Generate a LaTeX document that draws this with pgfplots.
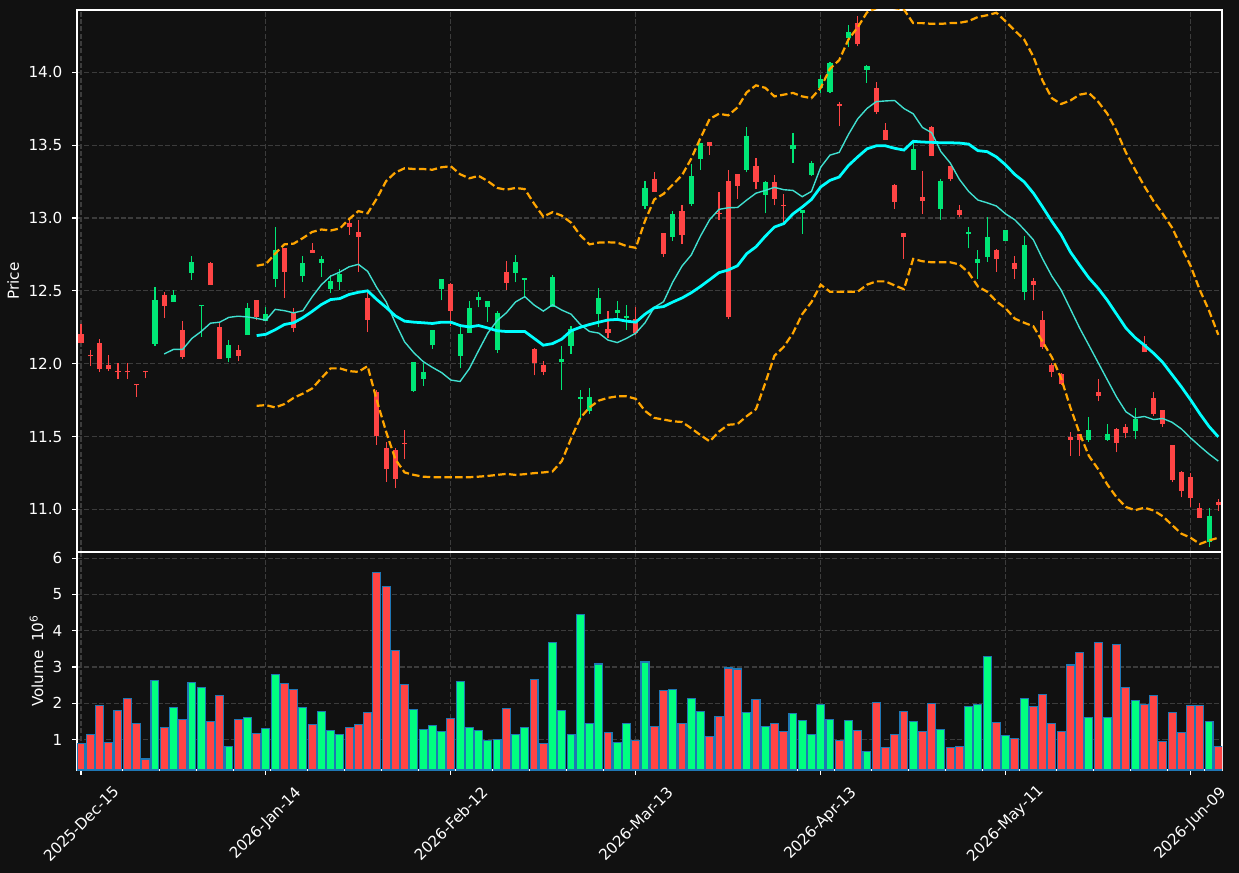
\documentclass[border=0pt]{standalone}
\usepackage{fontspec}
\setmainfont{DejaVu Sans}
\usepackage{pgfplots}
\pgfplotsset{compat=1.18}
\usepackage{pgfplotstable}
\definecolor{figbg}{HTML}{111111}
\definecolor{upc}{HTML}{00E676}
\definecolor{dnc}{HTML}{FF4545}
\definecolor{vup}{HTML}{00FF80}
\definecolor{vdn}{HTML}{FF4444}
\definecolor{vedge}{HTML}{1F77B4}
\definecolor{gridc}{HTML}{3C3C3C}
\definecolor{smaA}{HTML}{40E0D0}
\definecolor{smaB}{HTML}{00FFFF}
\definecolor{band}{HTML}{FFA500}

\pgfplotstableread{
i O H L C V
8 12.138 12.527 12.122 12.437 2.639
10 12.423 12.506 12.423 12.470 1.880
12 12.625 12.738 12.577 12.698 2.574
13 12.397 12.406 12.186 12.404 2.435
16 12.036 12.162 12.009 12.131 0.806
18 12.198 12.416 12.198 12.383 1.611
20 12.292 12.392 12.290 12.340 1.306
21 12.582 12.938 12.523 12.779 2.796
24 12.601 12.738 12.563 12.691 1.880
26 12.693 12.738 12.594 12.719 1.769
27 12.513 12.610 12.487 12.565 1.241
28 12.563 12.648 12.506 12.613 1.130
36 11.816 12.013 11.809 12.013 1.833
37 11.894 12.003 11.849 11.942 1.278
38 12.127 12.233 12.103 12.228 1.389
39 12.515 12.582 12.435 12.582 1.222
41 12.055 12.274 11.968 12.202 2.611
42 12.214 12.430 12.210 12.383 1.324
43 12.435 12.489 12.387 12.459 1.241
44 12.387 12.428 12.288 12.428 0.963
45 12.096 12.364 12.072 12.347 1.000
47 12.625 12.743 12.558 12.696 1.139
48 12.577 12.590 12.463 12.589 1.333
51 12.392 12.606 12.390 12.596 3.667
52 12.015 12.122 11.818 12.032 1.806
53 12.124 12.262 12.070 12.238 1.139
54 11.759 11.818 11.628 11.771 4.444
55 11.676 11.830 11.657 11.771 1.444
56 12.340 12.518 12.250 12.451 3.083
58 12.345 12.428 12.304 12.368 0.917
59 12.316 12.406 12.233 12.328 1.444
61 13.082 13.253 13.063 13.206 3.139
64 12.869 13.051 12.843 13.028 2.389
66 13.094 13.372 13.085 13.289 2.139
67 13.407 13.514 13.331 13.514 1.778
72 13.329 13.625 13.312 13.561 1.750
74 13.158 13.253 13.032 13.246 1.361
77 13.476 13.583 13.379 13.500 1.722
78 13.032 13.056 12.893 13.056 1.528
79 13.296 13.391 13.289 13.376 1.139
80 13.893 13.981 13.858 13.953 1.972
81 13.865 14.071 13.858 14.064 1.556
83 14.237 14.327 14.171 14.273 1.528
85 14.017 14.047 13.929 14.043 0.667
90 13.331 13.514 13.331 13.473 1.500
93 13.063 13.265 12.987 13.253 1.278
96 12.893 12.940 12.791 12.904 1.917
97 12.693 12.779 12.584 12.719 1.972
98 12.734 13.004 12.700 12.869 3.278
100 12.845 12.920 12.845 12.919 1.111
102 12.494 12.874 12.435 12.812 2.139
109 11.479 11.633 11.462 11.546 1.611
111 11.479 11.586 11.472 11.517 1.611
114 11.541 11.695 11.481 11.621 2.083
122 10.775 11.007 10.739 10.953 1.500
}\uptab

\pgfplotstableread{
i O H L C V
0 12.205 12.274 12.140 12.145 0.880
1 12.058 12.091 11.984 12.050 1.139
2 12.143 12.167 11.942 11.965 1.944
3 11.991 12.060 11.949 11.961 0.907
4 11.948 12.003 11.894 11.940 1.796
5 11.948 12.003 11.894 11.940 2.139
6 11.858 11.860 11.771 11.851 1.435
7 11.948 11.950 11.899 11.941 0.463
9 12.470 12.494 12.316 12.399 1.333
11 12.231 12.292 12.032 12.048 1.556
14 12.691 12.696 12.542 12.542 1.500
15 12.252 12.281 12.032 12.032 2.222
17 12.091 12.127 12.017 12.055 1.556
19 12.440 12.440 12.297 12.321 1.167
22 12.791 12.791 12.454 12.632 2.546
23 12.345 12.383 12.217 12.245 2.389
25 12.783 12.826 12.760 12.762 1.417
29 12.966 12.985 12.885 12.940 1.333
30 12.904 12.985 12.632 12.871 1.417
31 12.451 12.494 12.217 12.302 1.741
32 11.806 11.820 11.443 11.503 5.602
33 11.422 11.462 11.190 11.280 5.222
34 11.408 11.420 11.145 11.211 3.444
35 11.459 11.546 11.344 11.451 2.519
40 12.546 12.553 12.257 12.364 1.583
46 12.629 12.703 12.506 12.553 1.861
49 12.100 12.108 11.920 12.008 2.667
50 11.994 12.017 11.920 11.946 0.889
57 12.238 12.364 12.174 12.214 1.194
60 12.304 12.387 12.198 12.214 0.972
62 13.265 13.312 13.177 13.177 1.361
63 12.897 12.897 12.731 12.753 2.361
65 13.049 13.087 12.824 12.883 1.444
68 13.521 13.521 13.431 13.497 1.083
69 13.036 13.175 12.985 13.028 1.639
70 13.253 13.331 12.304 12.323 2.972
71 13.303 13.303 13.132 13.222 2.944
73 13.357 13.412 13.201 13.248 2.111
75 13.246 13.293 13.087 13.132 1.444
76 13.091 13.165 12.957 13.083 1.222
82 13.779 13.798 13.628 13.771 0.972
84 14.337 14.384 14.178 14.194 1.250
86 13.891 13.934 13.711 13.727 2.028
87 13.604 13.651 13.535 13.535 0.778
88 13.227 13.234 13.063 13.113 1.139
89 12.897 12.897 12.719 12.869 1.778
91 13.144 13.322 13.028 13.118 1.222
92 13.625 13.630 13.428 13.428 2.000
94 13.355 13.360 13.251 13.270 0.778
95 13.054 13.087 13.004 13.023 0.806
99 12.781 12.785 12.632 12.719 1.472
101 12.691 12.736 12.584 12.653 1.028
103 12.565 12.589 12.435 12.537 1.917
104 12.300 12.364 12.098 12.115 2.250
105 11.991 12.008 11.906 11.946 1.444
106 11.930 11.937 11.854 11.859 1.222
107 11.498 11.529 11.368 11.479 3.056
108 11.515 11.515 11.368 11.479 3.389
110 11.806 11.894 11.742 11.778 3.667
112 11.553 11.562 11.391 11.458 3.611
113 11.564 11.586 11.493 11.527 2.444
115 12.138 12.188 12.077 12.077 1.972
116 11.766 11.806 11.640 11.657 2.222
117 11.681 11.685 11.569 11.588 0.944
118 11.443 11.443 11.190 11.202 1.741
119 11.256 11.266 11.083 11.126 1.194
120 11.221 11.249 11.017 11.081 1.944
121 11.010 11.043 10.943 10.943 1.944
123 11.052 11.071 10.988 11.029 0.806
}\dntab

\pgfplotsset{
  darkaxis/.style={
    scale only axis, width=11.45in,
    xmin=-0.43, xmax=123.4,
    axis background/.style={fill=figbg},
    axis line style={white, line width=0.8pt},
    tick style={white, line width=0.8pt},
    tick align=outside, major tick length=3.5pt,
    tick pos=left,
    xtick={0,20,...,120},
    grid=major,
    major grid style={gridc, line width=0.8pt, dash pattern=on 3.7pt off 1.6pt},
    ticklabel style={font=\fontsize{11}{13}\selectfont, text=white},
    label style={font=\fontsize{11}{13}\selectfont, text=white},
    /pgf/number format/assume math mode=true,
    yticklabel style={xshift=-3.5pt},
  },
  candle/.style 2 args={draw=none, no markers, forget plot,
    error bars/.cd, y dir=plus, y explicit, error mark=none,
    error bar style={line width=#1, draw=#2}},
}

\begin{document}
\begin{tikzpicture}
\path[use as bounding box, fill=figbg] (0,0) rectangle (12.39in,-8.73in);

% ---------- price panel ----------
\begin{axis}[darkaxis,
  at={(0.77in,-5.52in)}, anchor=south west,
  height=5.42in,
  ymin=10.708, ymax=14.427,
  ytick={11,11.5,...,14},
  yticklabel style={/pgf/number format/.cd, fixed, fixed zerofill, precision=1},
  xticklabels={}, xtick style={draw=none},
  ylabel={Price},
]
% wicks
\addplot[candle={0.8pt}{upc}]
  table[x=i, y=L, y error expr=\thisrow{H}-\thisrow{L}] {\uptab};
\addplot[candle={0.8pt}{dnc}]
  table[x=i, y=L, y error expr=\thisrow{H}-\thisrow{L}] {\dntab};
% bodies
\addplot[candle={3.7pt}{upc}]
  table[x=i, y=O, y error expr=\thisrow{C}-\thisrow{O}] {\uptab};
\addplot[candle={3.7pt}{dnc}]
  table[x=i, y=C, y error expr=\thisrow{O}-\thisrow{C}] {\dntab};

% SMA 10 (thin)
\addplot[smaA, line width=1pt, mark=none] coordinates {
(9,12.067)(10,12.098)(11,12.098)(12,12.174)(13,12.221)(14,12.278)(15,12.285)(16,12.318)(17,12.326)(18,12.321)(19,12.311)(20,12.298)(21,12.373)(22,12.364)(23,12.349)(24,12.364)(25,12.459)(26,12.542)(27,12.601)(28,12.629)(29,12.665)(30,12.682)(31,12.634)(32,12.521)(33,12.425)(34,12.28)(35,12.15)(36,12.075)(37,12.015)(38,11.975)(39,11.939)(40,11.888)(41,11.878)(42,11.966)(43,12.09)(44,12.21)(45,12.295)(46,12.349)(47,12.424)(48,12.460)(49,12.403)(50,12.361)(51,12.404)(52,12.368)(53,12.340)(54,12.269)(55,12.221)(56,12.210)(57,12.162)(58,12.145)(59,12.174)(60,12.210)(61,12.281)(62,12.387)(63,12.425)(64,12.56)(65,12.67)(66,12.746)(67,12.876)(68,12.989)(69,13.059)(70,13.070)(71,13.072)(72,13.123)(73,13.170)(74,13.189)(75,13.210)(76,13.194)(77,13.189)(78,13.146)(79,13.182)(80,13.348)(81,13.431)(82,13.450)(83,13.573)(84,13.680)(85,13.751)(86,13.798)(87,13.803)(88,13.806)(89,13.751)(90,13.715)(91,13.621)(92,13.585)(93,13.455)(94,13.378)(95,13.265)(96,13.182)(97,13.123)(98,13.104)(99,13.082)(100,13.028)(101,12.987)(102,12.921)(103,12.850)(104,12.719)(105,12.601)(106,12.506)(107,12.376)(108,12.245)(109,12.127)(110,12.008)(111,11.889)(112,11.771)(113,11.671)(114,11.628)(115,11.638)(116,11.617)(117,11.624)(118,11.598)(119,11.553)(120,11.491)(121,11.434)(122,11.380)(123,11.332)
};
% SMA 20 (thick)
\addplot[smaB, line width=2pt, mark=none] coordinates {
(19,12.193)(20,12.202)(21,12.233)(22,12.269)(23,12.281)(24,12.316)(25,12.359)(26,12.406)(27,12.440)(28,12.447)(29,12.475)(30,12.49)(31,12.50)(32,12.440)(33,12.387)(34,12.328)(35,12.292)(36,12.285)(37,12.281)(38,12.276)(39,12.285)(40,12.285)(41,12.262)(42,12.252)(43,12.262)(44,12.245)(45,12.226)(46,12.221)(47,12.221)(48,12.221)(49,12.174)(50,12.127)(51,12.138)(52,12.169)(53,12.226)(54,12.250)(55,12.269)(56,12.285)(57,12.300)(58,12.304)(59,12.292)(60,12.285)(61,12.340)(62,12.383)(63,12.392)(64,12.423)(65,12.451)(66,12.487)(67,12.530)(68,12.577)(69,12.625)(70,12.643)(71,12.672)(72,12.755)(73,12.802)(74,12.874)(75,12.938)(76,12.961)(77,13.028)(78,13.075)(79,13.127)(80,13.213)(81,13.258)(82,13.281)(83,13.360)(84,13.419)(85,13.474)(86,13.495)(87,13.495)(88,13.478)(89,13.466)(90,13.526)(91,13.521)(92,13.519)(93,13.516)(94,13.516)(95,13.514)(96,13.507)(97,13.462)(98,13.455)(99,13.419)(100,13.364)(101,13.298)(102,13.248)(103,13.170)(104,13.075)(105,12.976)(106,12.885)(107,12.767)(108,12.677)(109,12.589)(110,12.518)(111,12.435)(112,12.340)(113,12.245)(114,12.179)(115,12.127)(116,12.072)(117,12.008)(118,11.925)(119,11.842)(120,11.752)(121,11.657)(122,11.569)(123,11.498)
};
% upper band
\addplot[band, line width=1.6pt, mark=none, dash pattern=on 5.4pt off 2.4pt] coordinates {
(19,12.672)(20,12.684)(21,12.755)(22,12.819)(23,12.824)(24,12.862)(25,12.904)(26,12.921)(27,12.914)(28,12.928)(29,12.992)(30,13.047)(31,13.032)(32,13.134)(33,13.253)(34,13.312)(35,13.341)(36,13.336)(37,13.336)(38,13.331)(39,13.348)(40,13.355)(41,13.300)(42,13.272)(43,13.289)(44,13.253)(45,13.206)(46,13.194)(47,13.206)(48,13.198)(49,13.099)(50,13.009)(51,13.040)(52,13.016)(53,12.968)(54,12.881)(55,12.819)(56,12.831)(57,12.833)(58,12.831)(59,12.807)(60,12.795)(61,12.980)(62,13.127)(63,13.165)(64,13.229)(65,13.293)(66,13.407)(67,13.549)(68,13.680)(69,13.715)(70,13.704)(71,13.758)(72,13.862)(73,13.910)(74,13.893)(75,13.834)(76,13.846)(77,13.858)(78,13.834)(79,13.822)(80,13.893)(81,14.024)(82,14.083)(83,14.225)(84,14.308)(85,14.41)(86,14.44)(87,14.45)(88,14.44)(89,14.43)(90,14.337)(91,14.337)(92,14.332)(93,14.332)(94,14.337)(95,14.339)(96,14.351)(97,14.379)(98,14.391)(99,14.408)(100,14.349)(101,14.285)(102,14.225)(103,14.107)(104,13.941)(105,13.822)(106,13.782)(107,13.806)(108,13.846)(109,13.858)(110,13.798)(111,13.715)(112,13.597)(113,13.450)(114,13.331)(115,13.218)(116,13.115)(117,13.028)(118,12.933)(119,12.802)(120,12.672)(121,12.506)(122,12.364)(123,12.198)
};
% lower band
\addplot[band, line width=1.6pt, mark=none, dash pattern=on 5.4pt off 2.4pt] coordinates {
(19,11.711)(20,11.716)(21,11.700)(22,11.723)(23,11.766)(24,11.795)(25,11.830)(26,11.901)(27,11.968)(28,11.968)(29,11.949)(30,11.944)(31,11.984)(32,11.747)(33,11.534)(34,11.344)(35,11.254)(36,11.237)(37,11.225)(38,11.221)(39,11.221)(40,11.221)(41,11.221)(42,11.221)(43,11.225)(44,11.230)(45,11.237)(46,11.244)(47,11.237)(48,11.242)(49,11.249)(50,11.254)(51,11.261)(52,11.332)(53,11.486)(54,11.628)(55,11.700)(56,11.747)(57,11.766)(58,11.776)(59,11.776)(60,11.759)(61,11.676)(62,11.628)(63,11.617)(64,11.605)(65,11.600)(66,11.557)(67,11.510)(68,11.467)(69,11.534)(70,11.581)(71,11.586)(72,11.640)(73,11.688)(74,11.866)(75,12.055)(76,12.115)(77,12.210)(78,12.340)(79,12.423)(80,12.542)(81,12.494)(82,12.494)(83,12.494)(84,12.494)(85,12.542)(86,12.565)(87,12.565)(88,12.537)(89,12.511)(90,12.719)(91,12.703)(92,12.696)(93,12.696)(94,12.696)(95,12.681)(96,12.625)(97,12.530)(98,12.494)(99,12.428)(100,12.380)(101,12.309)(102,12.281)(103,12.257)(104,12.150)(105,12.044)(106,11.901)(107,11.700)(108,11.522)(109,11.368)(110,11.277)(111,11.171)(112,11.083)(113,11.017)(114,10.995)(115,11.012)(116,10.993)(117,10.953)(118,10.893)(119,10.834)(120,10.806)(121,10.763)(122,10.787)(123,10.806)
};
\end{axis}

% ---------- volume panel ----------
\begin{axis}[darkaxis,
  at={(0.77in,-7.70in)}, anchor=south west,
  height=2.18in,
  ymin=0.16, ymax=6.17,
  ytick={1,2,3,4,5,6},
  xticklabels={2025-Dec-15,2026-Jan-14,2026-Feb-12,2026-Mar-13,2026-Apr-13,2026-May-11,2026-Jun-09},
  xticklabel style={yshift=-35.4pt, rotate=45, anchor=center},
  ylabel={Volume\hspace{0.55em}10\textsuperscript{6}},
]
\addplot[ybar, bar width=0.86, bar shift=0pt, fill=vup, draw=vedge, line width=0.8pt]
  table[x=i, y=V] {\uptab};
\addplot[ybar, bar width=0.86, bar shift=0pt, fill=vdn, draw=vedge, line width=0.8pt]
  table[x=i, y=V] {\dntab};
\end{axis}
\end{tikzpicture}
\end{document}
